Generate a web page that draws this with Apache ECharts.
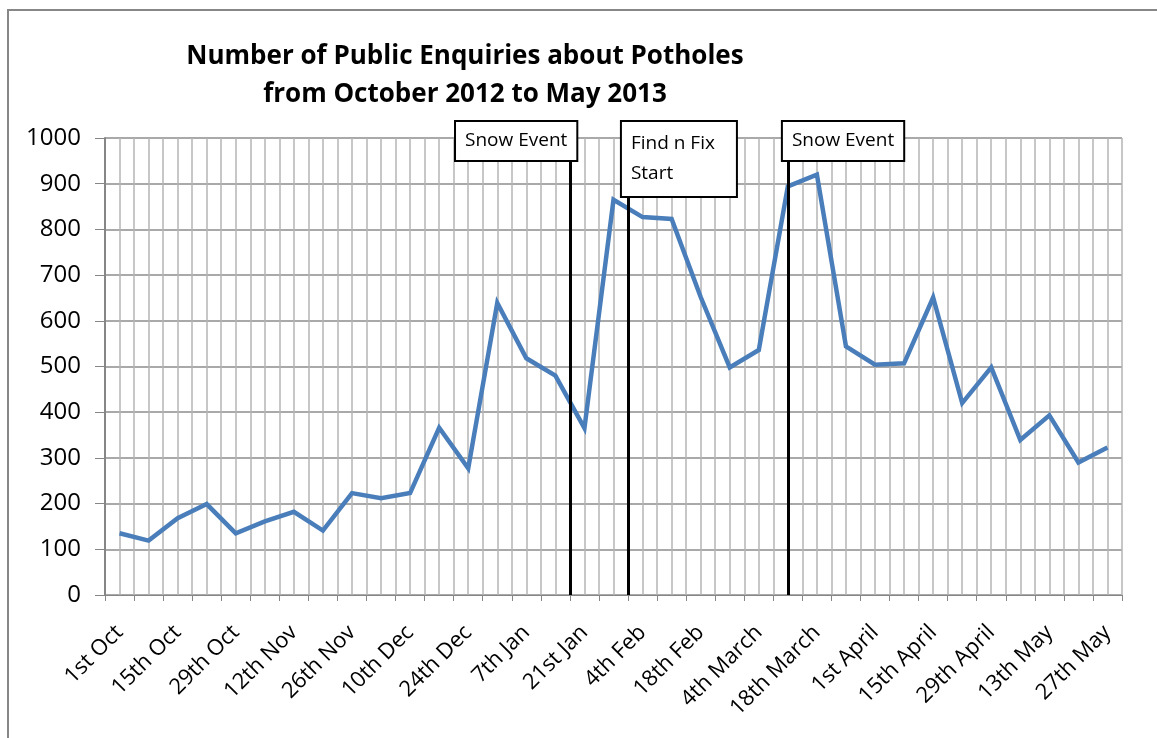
<!DOCTYPE html>
<html>
<head>
<meta charset="utf-8">
<script src="https://cdn.jsdelivr.net/npm/echarts@6/dist/echarts.min.js"></script>
<style>
  html, body { margin: 0; padding: 0; background: #fff; }
  #chart { width: 1157px; height: 738px; }
</style>
</head>
<body>
<div id="chart"></div>
<script>
// weekly categories, Monday of each week
const weeks = [
  "1st Oct", "8th Oct", "15th Oct", "22nd Oct", "29th Oct", "5th Nov", "12th Nov", "19th Nov",
  "26th Nov", "3rd Dec", "10th Dec", "17th Dec", "24th Dec", "31st Dec", "7th Jan", "14th Jan",
  "21st Jan", "28th Jan", "4th Feb", "11th Feb", "18th Feb", "25th Feb", "4th March", "11th March",
  "18th March", "25th March", "1st April", "8th April", "15th April", "22nd April", "29th April",
  "6th May", "13th May", "20th May", "27th May"
];
const enquiries = [
  135, 119, 168, 199, 135, 161, 182, 141, 223, 212, 223, 366, 277, 639, 518, 480, 365, 865,
  827, 823, 652, 498, 536, 894, 920, 544, 504, 507, 651, 420, 498, 339, 393, 290, 323
];
// event markers: line position on the week scale, line top = box bottom (data units), box left edge
const eventNames = ["Snow Event", "Find n Fix\nStart", "Snow Event"];
const eventAt = [16, 18, 23.5];
const eventLineTop = [952, 873, 952];
const eventBoxX = [12.08, 17.79, 23.33];

const chart = echarts.init(document.getElementById("chart"));
const font = "'Open Sans', sans-serif";

const option = {
  backgroundColor: "#fff",
  animation: false,
  title: {
    text: "Number of Public Enquiries about Potholes\nfrom October 2012 to May 2013",
    left: 460,
    top: 33,
    textAlign: "center",
    textStyle: { fontFamily: font, fontSize: 26, fontWeight: "bold", color: "#000", lineHeight: 38, align: "center" }
  },
  graphic: [{
    type: "rect",
    shape: { x: 8, y: 10, width: 1170, height: 760 },
    style: { fill: "none", stroke: "#878787", lineWidth: 2 },
    silent: true
  }],
  grid: { left: 105, right: 35, top: 138, bottom: 143 },
  xAxis: [
    {
      type: "category",
      data: weeks,
      boundaryGap: true,
      axisLine: { lineStyle: { color: "#868686", width: 1 } },
      axisTick: { show: true, interval: 0, length: 6, lineStyle: { color: "#868686" } },
      splitLine: { show: false },
      axisLabel: { interval: 1, rotate: 45, fontFamily: font, fontSize: 22, color: "#000", margin: 34 }
    },
    {
      type: "value",
      min: 0,
      max: 35,
      interval: 0.5,
      position: "bottom",
      axisLine: { show: false },
      axisTick: { show: false },
      axisLabel: { show: false },
      splitLine: { show: true, lineStyle: { color: "#b4b4b4", width: 1.5 } }
    }
  ],
  yAxis: {
    type: "value",
    min: 0,
    max: 1000,
    interval: 100,
    axisLine: { show: true, lineStyle: { color: "#868686", width: 2 } },
    axisTick: { show: true, length: 10, lineStyle: { color: "#868686" } },
    splitLine: { show: true, lineStyle: { color: "#8c8c8c", width: 1.5 } },
    axisLabel: { fontFamily: font, fontSize: 24, color: "#000", margin: 24, formatter: (v) => String(v) }
  },
  series: [
    {
      name: "Enquiries",
      type: "line",
      xAxisIndex: 0,
      data: enquiries,
      symbol: "none",
      z: 3,
      lineStyle: { color: "#4a7ebb", width: 4.5, join: "miter" }
    },
    {
      name: "Events",
      type: "line",
      xAxisIndex: 1,
      data: eventAt.map((x) => [x, 0]),
      symbol: "none",
      lineStyle: { opacity: 0 },
      z: 4,
      markLine: {
        silent: true,
        symbol: "none",
        label: { show: false },
        lineStyle: { color: "#000", width: 3, type: "solid" },
        data: eventAt.map((x, i) => [{ coord: [x, 0] }, { coord: [x, eventLineTop[i]] }])
      },
      markPoint: {
        silent: true,
        symbol: "rect",
        symbolSize: 0,
        data: eventNames.map((name, i) => ({
          name: name,
          coord: [eventBoxX[i], eventLineTop[i]],
          label: i === 1
            ? { width: 96, lineHeight: 30, padding: [7, 9, 7, 9] }
            : { lineHeight: 22, padding: [8, 9, 8, 9] }
        })),
        label: {
          show: true,
          position: [0, 0],
          align: "left",
          verticalAlign: "bottom",
          formatter: "{b}",
          fontFamily: font,
          fontSize: 19,
          color: "#000",
          backgroundColor: "#fff",
          borderColor: "#000",
          borderWidth: 2
        }
      }
    }
  ]
};

chart.setOption(option);
</script>
</body>
</html>
